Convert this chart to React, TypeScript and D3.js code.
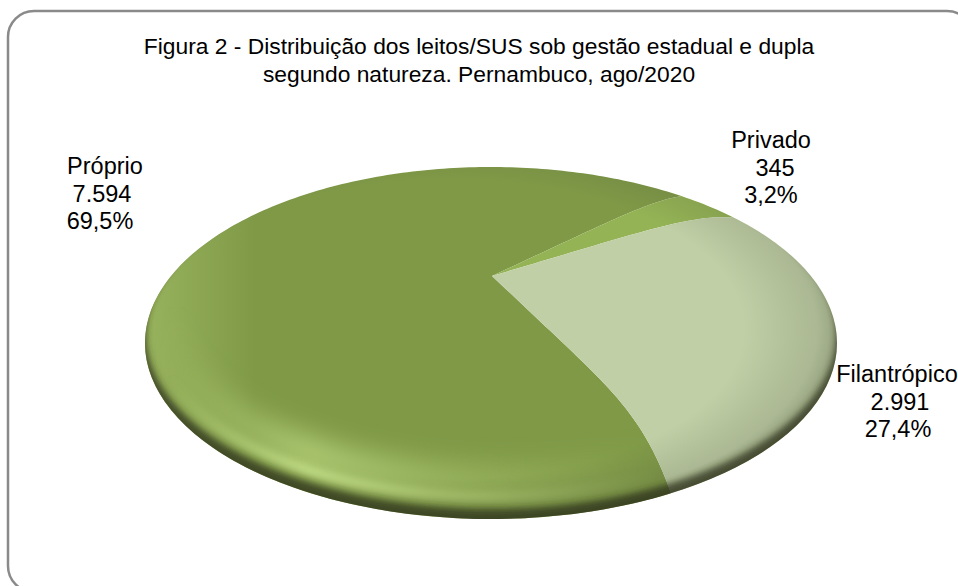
import React from "react";
import * as d3 from "d3";

const categories = ["Próprio", "Privado", "Filantrópico"];
const counts = [7594, 345, 2991];
const countLabels = ["7.594", "345", "2.991"];
const shareLabels = ["69,5%", "3,2%", "27,4%"];
const sliceColors = ["#7f9947", "#94b355", "#c0cfa6"];
const titleLines = [
  "Figura 2 - Distribuição dos leitos/SUS sob gestão estadual e dupla",
  "segundo natureza. Pernambuco, ago/2020",
];
const labelX: [number, number, number][] = [[105, 102, 100], [771, 775, 771], [897, 900, 898]];
const labelY = [174, 148, 382];

const CX = 491, CY = 343, RX = 346, RY = 176;
const APEX = [492, 276];
const START = (146 * Math.PI) / 180;

function warp(t: number) {
  return t - 0.05 * Math.sin(2 * t);
}
function project(t: number, r: number): [number, number] {
  const a = warp(t);
  const rimX = CX + RX * Math.sin(a);
  const rimY = CY - RY * Math.cos(a);
  const s = Math.sin(a);
  const coef = 28 * s * s + 48 * Math.max(0, -Math.cos(a));
  const bow = coef * r * (1 - Math.pow(r, 6));
  return [APEX[0] + (rimX - APEX[0]) * r, APEX[1] + (rimY - APEX[1]) * r - bow];
}

const pie = d3.pie<number>().sort(null).startAngle(START).endAngle(START + 2 * Math.PI);
const line = d3.line();

function slicePath(a0: number, a1: number) {
  const pts: [number, number][] = [];
  const rs = d3.range(0, 41).map((i) => i / 40);
  rs.forEach((r) => pts.push(project(a0, r)));
  const n = Math.max(4, Math.ceil((a1 - a0) * 60));
  d3.range(1, n).forEach((i) => pts.push(project(a0 + ((a1 - a0) * i) / n, 1)));
  rs.slice().reverse().forEach((r) => pts.push(project(a1, r)));
  return line(pts) + "Z";
}

function ellipsePath(cx: number, cy: number, rx: number, ry: number) {
  return `M${cx - rx},${cy}A${rx},${ry} 0 1 0 ${cx + rx},${cy}A${rx},${ry} 0 1 0 ${cx - rx},${cy}Z`;
}
function lowerArc(cx: number, cy: number, rx: number, ry: number) {
  return `M${cx - rx},${cy}A${rx},${ry} 0 0 0 ${cx + rx},${cy}`;
}

export default function App() {
  const arcs = pie(counts);
  return (
    <svg
      width={958}
      height={586}
      style={{ position: "absolute", left: 0, top: 0, background: "#fff" }}
      fontFamily="'Liberation Sans', Arial, sans-serif"
    >
      <defs>
        <clipPath id="disc"><ellipse cx={CX} cy={CY} rx={RX} ry={RY} /></clipPath>
        <clipPath id="first"><path d={slicePath(arcs[0].startAngle, arcs[0].endAngle)} /></clipPath>
        <radialGradient id="rimShade" cx="0.44" cy="0.46" r="0.59">
          <stop offset="0.72" stopColor="#3c4030" stopOpacity="0" />
          <stop offset="0.9" stopColor="#3c4030" stopOpacity="0.16" />
          <stop offset="1" stopColor="#30341f" stopOpacity="0.42" />
        </radialGradient>
        <linearGradient id="leftFade" x1="0" x2="1" y1="0" y2="0">
          <stop offset="0" stopColor="#a9c56c" stopOpacity="0.6" />
          <stop offset="0.16" stopColor="#a9c56c" stopOpacity="0" />
        </linearGradient>
        <linearGradient id="glow" gradientUnits="userSpaceOnUse" x1="170" x2="660" y1="0" y2="0">
          <stop offset="0" stopColor="#cdea8e" stopOpacity="0" />
          <stop offset="0.28" stopColor="#cdea8e" stopOpacity="1" />
          <stop offset="0.55" stopColor="#cdea8e" stopOpacity="0.55" />
          <stop offset="1" stopColor="#cdea8e" stopOpacity="0" />
        </linearGradient>
        <filter id="blurWide" x="-20%" y="-50%" width="140%" height="200%"><feGaussianBlur stdDeviation="12" /></filter>
        <filter id="blurMid" x="-20%" y="-50%" width="140%" height="200%"><feGaussianBlur stdDeviation="4" /></filter>
        <filter id="blur2" x="-10%" y="-10%" width="120%" height="120%"><feGaussianBlur stdDeviation="3.2" /></filter>
      </defs>

      <rect x={8} y={11} width={965} height={581} rx={26} fill="#fff" stroke="#8a8a8a" strokeWidth={2.5} />

      <g fontSize={22.8} textAnchor="middle" fill="#000">
        <text x={479} y={54}>{titleLines[0]}</text>
        <text x={479} y={82}>{titleLines[1]}</text>
      </g>

      {arcs.map((d, i) => (
        <path key={i} d={slicePath(d.startAngle, d.endAngle)} fill={sliceColors[i]} />
      ))}

      <g clipPath="url(#disc)">
        <rect x={CX - RX} y={CY - RY} width={RX * 2} height={RY * 2} fill="url(#leftFade)" clipPath="url(#first)" />
        <g clipPath="url(#first)">
          <path d={lowerArc(CX, CY - 28, RX - 18, RY - 10)} fill="none" stroke="url(#glow)" strokeWidth={34} strokeOpacity={0.6} filter="url(#blurWide)" />
          <path d={lowerArc(CX, CY - 14, RX - 8, RY - 8)} fill="none" stroke="url(#glow)" strokeWidth={9} strokeOpacity={1} filter="url(#blurMid)" />
        </g>
        <ellipse cx={CX} cy={CY} rx={RX} ry={RY} fill="url(#rimShade)" />
        <path
          fillRule="evenodd"
          d={ellipsePath(CX, CY, RX + 14, RY + 14) + ellipsePath(CX, CY - 9, RX - 1, RY - 1)}
          fill="#2c3318"
          fillOpacity={0.75}
          filter="url(#blur2)"
        />
      </g>

      <g fontSize={23.5} textAnchor="middle" fill="#000">
        {categories.map((c, i) => (
          <text key={c} y={labelY[i]}>
            <tspan x={labelX[i][0]} dy={0}>{c}</tspan>
            <tspan x={labelX[i][1]} dy={27.7}>{countLabels[i]}</tspan>
            <tspan x={labelX[i][2]} dy={27.7}>{shareLabels[i]}</tspan>
          </text>
        ))}
      </g>
    </svg>
  );
}
